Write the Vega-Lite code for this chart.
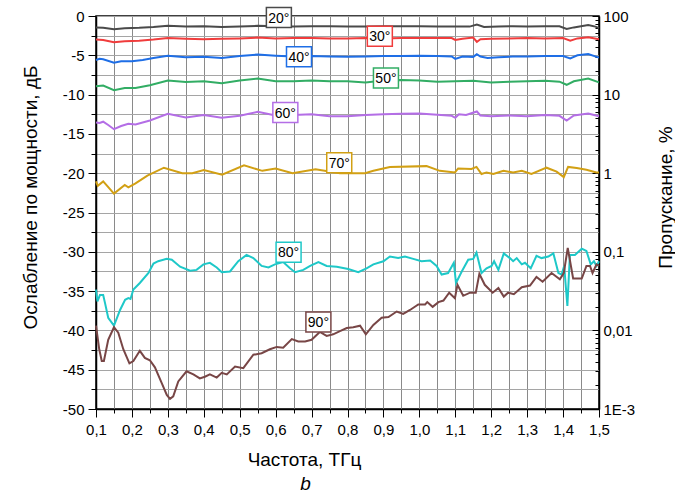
{
  "$schema": "https://vega.github.io/schema/vega-lite/v6.json",
  "width": 503,
  "height": 393,
  "autosize": {"type": "none"},
  "padding": {"left": 96, "top": 16, "right": 76, "bottom": 95},
  "background": "white",
  "title": {"text": "b", "orient": "bottom", "fontStyle": "italic", "fontWeight": "normal", "fontSize": 19, "font": "Liberation Sans", "color": "black", "offset": 6, "dx": -42},
  "config": {
    "view": {"stroke": "black", "strokeWidth": 1.5},
    "font": "Liberation Sans",
    "axis": {"labelFont": "Liberation Sans", "labelFontSize": 15, "labelColor": "black", "titleFont": "Liberation Sans", "titleFontSize": 19, "titleFontWeight": "normal", "titleColor": "black", "domainColor": "black", "domainWidth": 1.5, "tickColor": "black", "tickWidth": 1}
  },
  "datasets": {
    "curves": [
      {"s":"20","f":0.10,"db":-1.45},{"s":"20","f":0.12,"db":-1.5},{"s":"20","f":0.15,"db":-1.68},{"s":"20","f":0.18,"db":-1.55},{"s":"20","f":0.22,"db":-1.5},{"s":"20","f":0.26,"db":-1.4},{"s":"20","f":0.30,"db":-1.25},{"s":"20","f":0.35,"db":-1.35},{"s":"20","f":0.40,"db":-1.3},{"s":"20","f":0.45,"db":-1.4},{"s":"20","f":0.50,"db":-1.35},{"s":"20","f":0.55,"db":-1.25},{"s":"20","f":0.60,"db":-1.3},{"s":"20","f":0.65,"db":-1.35},{"s":"20","f":0.70,"db":-1.3},{"s":"20","f":0.75,"db":-1.3},{"s":"20","f":0.80,"db":-1.35},{"s":"20","f":0.85,"db":-1.35},{"s":"20","f":0.90,"db":-1.3},{"s":"20","f":0.95,"db":-1.3},{"s":"20","f":1.00,"db":-1.3},{"s":"20","f":1.05,"db":-1.35},{"s":"20","f":1.10,"db":-1.35},{"s":"20","f":1.14,"db":-1.35},{"s":"20","f":1.16,"db":-1.1},{"s":"20","f":1.18,"db":-1.4},{"s":"20","f":1.22,"db":-1.35},{"s":"20","f":1.26,"db":-1.3},{"s":"20","f":1.30,"db":-1.35},{"s":"20","f":1.35,"db":-1.3},{"s":"20","f":1.39,"db":-1.3},{"s":"20","f":1.41,"db":-1.65},{"s":"20","f":1.43,"db":-1.45},{"s":"20","f":1.45,"db":-1.3},{"s":"20","f":1.47,"db":-1.15},{"s":"20","f":1.49,"db":-1.35},{"s":"20","f":1.50,"db":-1.55},
      {"s":"30","f":0.10,"db":-3.0},{"s":"30","f":0.12,"db":-3.05},{"s":"30","f":0.15,"db":-3.35},{"s":"30","f":0.18,"db":-3.2},{"s":"30","f":0.22,"db":-3.15},{"s":"30","f":0.26,"db":-3.0},{"s":"30","f":0.30,"db":-2.8},{"s":"30","f":0.35,"db":-2.9},{"s":"30","f":0.40,"db":-2.95},{"s":"30","f":0.45,"db":-2.9},{"s":"30","f":0.50,"db":-2.85},{"s":"30","f":0.55,"db":-2.75},{"s":"30","f":0.60,"db":-2.85},{"s":"30","f":0.65,"db":-2.8},{"s":"30","f":0.70,"db":-2.8},{"s":"30","f":0.75,"db":-2.85},{"s":"30","f":0.80,"db":-2.85},{"s":"30","f":0.85,"db":-2.8},{"s":"30","f":0.90,"db":-2.85},{"s":"30","f":0.95,"db":-2.8},{"s":"30","f":1.00,"db":-2.8},{"s":"30","f":1.05,"db":-2.8},{"s":"30","f":1.09,"db":-2.8},{"s":"30","f":1.10,"db":-3.05},{"s":"30","f":1.12,"db":-2.9},{"s":"30","f":1.15,"db":-2.75},{"s":"30","f":1.16,"db":-3.3},{"s":"30","f":1.17,"db":-2.95},{"s":"30","f":1.20,"db":-2.9},{"s":"30","f":1.25,"db":-2.85},{"s":"30","f":1.30,"db":-2.8},{"s":"30","f":1.35,"db":-2.85},{"s":"30","f":1.40,"db":-2.8},{"s":"30","f":1.42,"db":-3.15},{"s":"30","f":1.44,"db":-2.85},{"s":"30","f":1.47,"db":-2.7},{"s":"30","f":1.50,"db":-2.95},
      {"s":"40","f":0.10,"db":-5.6},{"s":"40","f":0.11,"db":-5.45},{"s":"40","f":0.12,"db":-5.5},{"s":"40","f":0.15,"db":-5.95},{"s":"40","f":0.17,"db":-5.75},{"s":"40","f":0.20,"db":-5.75},{"s":"40","f":0.23,"db":-5.6},{"s":"40","f":0.26,"db":-5.35},{"s":"40","f":0.30,"db":-5.05},{"s":"40","f":0.35,"db":-5.25},{"s":"40","f":0.40,"db":-5.2},{"s":"40","f":0.45,"db":-5.35},{"s":"40","f":0.50,"db":-5.1},{"s":"40","f":0.55,"db":-4.9},{"s":"40","f":0.60,"db":-5.05},{"s":"40","f":0.65,"db":-5.15},{"s":"40","f":0.70,"db":-5.1},{"s":"40","f":0.75,"db":-5.15},{"s":"40","f":0.80,"db":-5.2},{"s":"40","f":0.85,"db":-5.15},{"s":"40","f":0.90,"db":-5.1},{"s":"40","f":0.95,"db":-5.1},{"s":"40","f":1.00,"db":-5.05},{"s":"40","f":1.05,"db":-5.1},{"s":"40","f":1.09,"db":-5.15},{"s":"40","f":1.10,"db":-5.45},{"s":"40","f":1.12,"db":-5.15},{"s":"40","f":1.15,"db":-5.2},{"s":"40","f":1.16,"db":-4.85},{"s":"40","f":1.17,"db":-5.15},{"s":"40","f":1.19,"db":-5.35},{"s":"40","f":1.22,"db":-5.25},{"s":"40","f":1.26,"db":-5.15},{"s":"40","f":1.30,"db":-5.15},{"s":"40","f":1.35,"db":-5.1},{"s":"40","f":1.40,"db":-5.1},{"s":"40","f":1.42,"db":-5.4},{"s":"40","f":1.44,"db":-5.0},{"s":"40","f":1.47,"db":-4.85},{"s":"40","f":1.50,"db":-5.3},
      {"s":"50","f":0.10,"db":-8.95},{"s":"50","f":0.12,"db":-8.85},{"s":"50","f":0.15,"db":-9.45},{"s":"50","f":0.18,"db":-9.15},{"s":"50","f":0.21,"db":-9.15},{"s":"50","f":0.25,"db":-8.8},{"s":"50","f":0.30,"db":-8.2},{"s":"50","f":0.35,"db":-8.4},{"s":"50","f":0.40,"db":-8.3},{"s":"50","f":0.45,"db":-8.55},{"s":"50","f":0.50,"db":-8.2},{"s":"50","f":0.55,"db":-7.95},{"s":"50","f":0.60,"db":-8.3},{"s":"50","f":0.65,"db":-8.3},{"s":"50","f":0.70,"db":-8.2},{"s":"50","f":0.75,"db":-8.3},{"s":"50","f":0.80,"db":-8.3},{"s":"50","f":0.85,"db":-8.45},{"s":"50","f":0.90,"db":-8.2},{"s":"50","f":0.95,"db":-8.15},{"s":"50","f":1.00,"db":-8.2},{"s":"50","f":1.05,"db":-8.35},{"s":"50","f":1.10,"db":-8.3},{"s":"50","f":1.15,"db":-8.25},{"s":"50","f":1.20,"db":-8.45},{"s":"50","f":1.25,"db":-8.35},{"s":"50","f":1.30,"db":-8.3},{"s":"50","f":1.35,"db":-8.25},{"s":"50","f":1.39,"db":-8.35},{"s":"50","f":1.41,"db":-8.75},{"s":"50","f":1.43,"db":-8.3},{"s":"50","f":1.47,"db":-7.95},{"s":"50","f":1.50,"db":-8.45},
      {"s":"60","f":0.10,"db":-13.55},{"s":"60","f":0.11,"db":-13.6},{"s":"60","f":0.12,"db":-13.45},{"s":"60","f":0.135,"db":-13.9},{"s":"60","f":0.15,"db":-14.4},{"s":"60","f":0.17,"db":-14.0},{"s":"60","f":0.19,"db":-13.7},{"s":"60","f":0.21,"db":-13.8},{"s":"60","f":0.25,"db":-13.3},{"s":"60","f":0.30,"db":-12.45},{"s":"60","f":0.35,"db":-12.9},{"s":"60","f":0.40,"db":-12.6},{"s":"60","f":0.45,"db":-12.95},{"s":"60","f":0.50,"db":-12.7},{"s":"60","f":0.55,"db":-12.2},{"s":"60","f":0.60,"db":-12.65},{"s":"60","f":0.65,"db":-12.6},{"s":"60","f":0.70,"db":-12.5},{"s":"60","f":0.75,"db":-12.75},{"s":"60","f":0.80,"db":-12.75},{"s":"60","f":0.85,"db":-12.6},{"s":"60","f":0.90,"db":-12.5},{"s":"60","f":0.95,"db":-12.45},{"s":"60","f":1.00,"db":-12.4},{"s":"60","f":1.05,"db":-12.55},{"s":"60","f":1.09,"db":-12.7},{"s":"60","f":1.10,"db":-12.95},{"s":"60","f":1.11,"db":-12.5},{"s":"60","f":1.13,"db":-12.6},{"s":"60","f":1.16,"db":-12.15},{"s":"60","f":1.17,"db":-12.65},{"s":"60","f":1.20,"db":-12.75},{"s":"60","f":1.25,"db":-12.65},{"s":"60","f":1.30,"db":-12.75},{"s":"60","f":1.35,"db":-12.6},{"s":"60","f":1.39,"db":-12.7},{"s":"60","f":1.41,"db":-13.3},{"s":"60","f":1.43,"db":-12.65},{"s":"60","f":1.47,"db":-12.4},{"s":"60","f":1.50,"db":-12.75},
      {"s":"70","f":0.10,"db":-21.05},{"s":"70","f":0.105,"db":-21.6},{"s":"70","f":0.12,"db":-21.05},{"s":"70","f":0.15,"db":-22.6},{"s":"70","f":0.18,"db":-21.5},{"s":"70","f":0.19,"db":-21.8},{"s":"70","f":0.21,"db":-21.3},{"s":"70","f":0.243,"db":-20.3},{"s":"70","f":0.289,"db":-19.3},{"s":"70","f":0.34,"db":-20.0},{"s":"70","f":0.368,"db":-20.0},{"s":"70","f":0.40,"db":-19.6},{"s":"70","f":0.451,"db":-20.2},{"s":"70","f":0.512,"db":-19.0},{"s":"70","f":0.563,"db":-19.7},{"s":"70","f":0.60,"db":-19.4},{"s":"70","f":0.647,"db":-20.0},{"s":"70","f":0.711,"db":-19.5},{"s":"70","f":0.779,"db":-20.0},{"s":"70","f":0.849,"db":-20.0},{"s":"70","f":0.872,"db":-19.7},{"s":"70","f":0.918,"db":-19.2},{"s":"70","f":1.02,"db":-19.1},{"s":"70","f":1.057,"db":-19.7},{"s":"70","f":1.099,"db":-19.9},{"s":"70","f":1.108,"db":-19.4},{"s":"70","f":1.145,"db":-19.45},{"s":"70","f":1.159,"db":-19.2},{"s":"70","f":1.173,"db":-20.1},{"s":"70","f":1.187,"db":-19.9},{"s":"70","f":1.206,"db":-20.1},{"s":"70","f":1.234,"db":-19.7},{"s":"70","f":1.261,"db":-19.9},{"s":"70","f":1.285,"db":-19.7},{"s":"70","f":1.312,"db":-20.1},{"s":"70","f":1.354,"db":-19.3},{"s":"70","f":1.382,"db":-19.8},{"s":"70","f":1.402,"db":-20.5},{"s":"70","f":1.414,"db":-19.2},{"s":"70","f":1.438,"db":-19.35},{"s":"70","f":1.465,"db":-19.55},{"s":"70","f":1.493,"db":-19.9},{"s":"70","f":1.50,"db":-19.9},
      {"s":"80","f":0.100,"db":-34.8},{"s":"80","f":0.104,"db":-36.3},{"s":"80","f":0.111,"db":-35.5},{"s":"80","f":0.120,"db":-35.5},{"s":"80","f":0.125,"db":-36.5},{"s":"80","f":0.134,"db":-38.4},{"s":"80","f":0.150,"db":-39.4},{"s":"80","f":0.167,"db":-37.4},{"s":"80","f":0.181,"db":-36.1},{"s":"80","f":0.190,"db":-35.9},{"s":"80","f":0.196,"db":-36.0},{"s":"80","f":0.204,"db":-34.8},{"s":"80","f":0.222,"db":-33.97},{"s":"80","f":0.246,"db":-32.7},{"s":"80","f":0.26,"db":-31.5},{"s":"80","f":0.273,"db":-31.2},{"s":"80","f":0.297,"db":-30.9},{"s":"80","f":0.311,"db":-31.0},{"s":"80","f":0.334,"db":-31.9},{"s":"80","f":0.362,"db":-32.4},{"s":"80","f":0.38,"db":-32.3},{"s":"80","f":0.399,"db":-31.6},{"s":"80","f":0.417,"db":-31.4},{"s":"80","f":0.436,"db":-32.0},{"s":"80","f":0.45,"db":-32.6},{"s":"80","f":0.473,"db":-32.5},{"s":"80","f":0.496,"db":-31.2},{"s":"80","f":0.519,"db":-30.4},{"s":"80","f":0.538,"db":-30.8},{"s":"80","f":0.561,"db":-31.8},{"s":"80","f":0.58,"db":-32.0},{"s":"80","f":0.598,"db":-31.6},{"s":"80","f":0.621,"db":-31.3},{"s":"80","f":0.64,"db":-32.1},{"s":"80","f":0.654,"db":-32.6},{"s":"80","f":0.677,"db":-32.3},{"s":"80","f":0.696,"db":-31.8},{"s":"80","f":0.719,"db":-31.3},{"s":"80","f":0.742,"db":-31.8},{"s":"80","f":0.77,"db":-31.9},{"s":"80","f":0.802,"db":-32.2},{"s":"80","f":0.83,"db":-32.6},{"s":"80","f":0.853,"db":-32.1},{"s":"80","f":0.872,"db":-31.6},{"s":"80","f":0.9,"db":-31.2},{"s":"80","f":0.918,"db":-30.6},{"s":"80","f":0.941,"db":-30.8},{"s":"80","f":0.96,"db":-30.6},{"s":"80","f":0.983,"db":-30.9},{"s":"80","f":1.006,"db":-31.2},{"s":"80","f":1.03,"db":-31.1},{"s":"80","f":1.048,"db":-31.8},{"s":"80","f":1.062,"db":-32.9},{"s":"80","f":1.08,"db":-32.7},{"s":"80","f":1.096,"db":-31.4},{"s":"80","f":1.102,"db":-33.97},{"s":"80","f":1.118,"db":-32.5},{"s":"80","f":1.136,"db":-31.0},{"s":"80","f":1.15,"db":-30.9},{"s":"80","f":1.159,"db":-30.1},{"s":"80","f":1.173,"db":-32.7},{"s":"80","f":1.187,"db":-32.1},{"s":"80","f":1.201,"db":-31.8},{"s":"80","f":1.208,"db":-31.2},{"s":"80","f":1.22,"db":-32.3},{"s":"80","f":1.235,"db":-30.2},{"s":"80","f":1.252,"db":-30.8},{"s":"80","f":1.261,"db":-31.2},{"s":"80","f":1.271,"db":-30.8},{"s":"80","f":1.285,"db":-31.6},{"s":"80","f":1.294,"db":-31.4},{"s":"80","f":1.31,"db":-32.1},{"s":"80","f":1.326,"db":-30.5},{"s":"80","f":1.34,"db":-30.8},{"s":"80","f":1.359,"db":-30.6},{"s":"80","f":1.373,"db":-30.2},{"s":"80","f":1.387,"db":-32.7},{"s":"80","f":1.396,"db":-32.9},{"s":"80","f":1.403,"db":-31.8},{"s":"80","f":1.412,"db":-36.9},{"s":"80","f":1.419,"db":-30.4},{"s":"80","f":1.433,"db":-30.4},{"s":"80","f":1.452,"db":-29.6},{"s":"80","f":1.465,"db":-29.9},{"s":"80","f":1.477,"db":-31.6},{"s":"80","f":1.486,"db":-31.2},{"s":"80","f":1.493,"db":-31.8},{"s":"80","f":1.5,"db":-31.2},
      {"s":"90","f":0.1,"db":-39.4},{"s":"90","f":0.109,"db":-42.4},{"s":"90","f":0.116,"db":-43.9},{"s":"90","f":0.122,"db":-43.9},{"s":"90","f":0.134,"db":-41.2},{"s":"90","f":0.15,"db":-39.6},{"s":"90","f":0.162,"db":-40.3},{"s":"90","f":0.176,"db":-42.4},{"s":"90","f":0.193,"db":-44.2},{"s":"90","f":0.204,"db":-43.9},{"s":"90","f":0.222,"db":-42.6},{"s":"90","f":0.236,"db":-43.5},{"s":"90","f":0.25,"db":-43.8},{"s":"90","f":0.264,"db":-44.7},{"s":"90","f":0.283,"db":-46.7},{"s":"90","f":0.297,"db":-48.2},{"s":"90","f":0.306,"db":-48.7},{"s":"90","f":0.315,"db":-48.4},{"s":"90","f":0.329,"db":-46.5},{"s":"90","f":0.352,"db":-45.2},{"s":"90","f":0.371,"db":-45.6},{"s":"90","f":0.389,"db":-46.1},{"s":"90","f":0.403,"db":-45.9},{"s":"90","f":0.417,"db":-45.6},{"s":"90","f":0.436,"db":-46.0},{"s":"90","f":0.45,"db":-45.4},{"s":"90","f":0.464,"db":-45.6},{"s":"90","f":0.487,"db":-44.6},{"s":"90","f":0.51,"db":-44.8},{"s":"90","f":0.538,"db":-43.1},{"s":"90","f":0.561,"db":-42.9},{"s":"90","f":0.584,"db":-42.4},{"s":"90","f":0.603,"db":-42.1},{"s":"90","f":0.621,"db":-42.2},{"s":"90","f":0.645,"db":-41.1},{"s":"90","f":0.663,"db":-41.4},{"s":"90","f":0.682,"db":-41.4},{"s":"90","f":0.7,"db":-41.2},{"s":"90","f":0.723,"db":-40.2},{"s":"90","f":0.742,"db":-40.7},{"s":"90","f":0.76,"db":-40.5},{"s":"90","f":0.779,"db":-40.1},{"s":"90","f":0.798,"db":-39.7},{"s":"90","f":0.816,"db":-39.6},{"s":"90","f":0.835,"db":-39.4},{"s":"90","f":0.851,"db":-40.5},{"s":"90","f":0.872,"db":-39.3},{"s":"90","f":0.895,"db":-38.4},{"s":"90","f":0.914,"db":-38.3},{"s":"90","f":0.937,"db":-37.6},{"s":"90","f":0.955,"db":-37.9},{"s":"90","f":0.974,"db":-37.4},{"s":"90","f":0.997,"db":-36.7},{"s":"90","f":1.016,"db":-36.7},{"s":"90","f":1.022,"db":-36.4},{"s":"90","f":1.037,"db":-37.0},{"s":"90","f":1.053,"db":-36.4},{"s":"90","f":1.067,"db":-36.2},{"s":"90","f":1.083,"db":-35.2},{"s":"90","f":1.099,"db":-35.9},{"s":"90","f":1.106,"db":-34.2},{"s":"90","f":1.122,"db":-35.6},{"s":"90","f":1.141,"db":-35.2},{"s":"90","f":1.157,"db":-35.2},{"s":"90","f":1.167,"db":-32.8},{"s":"90","f":1.182,"db":-34.2},{"s":"90","f":1.204,"db":-35.2},{"s":"90","f":1.22,"db":-34.6},{"s":"90","f":1.235,"db":-35.7},{"s":"90","f":1.247,"db":-35.2},{"s":"90","f":1.263,"db":-35.4},{"s":"90","f":1.285,"db":-34.5},{"s":"90","f":1.308,"db":-34.3},{"s":"90","f":1.326,"db":-33.2},{"s":"90","f":1.343,"db":-33.8},{"s":"90","f":1.368,"db":-32.7},{"s":"90","f":1.391,"db":-33.5},{"s":"90","f":1.402,"db":-32.7},{"s":"90","f":1.413,"db":-29.5},{"s":"90","f":1.428,"db":-33.4},{"s":"90","f":1.452,"db":-33.4},{"s":"90","f":1.465,"db":-31.8},{"s":"90","f":1.475,"db":-31.8},{"s":"90","f":1.482,"db":-32.7},{"s":"90","f":1.493,"db":-31.6},{"s":"90","f":1.5,"db":-31.8}
    ],
    "labels": [
      {"s":"20","f":0.609,"db":-0.2,"t":"20°"},
      {"s":"30","f":0.89,"db":-2.58,"t":"30°"},
      {"s":"40","f":0.665,"db":-5.19,"t":"40°"},
      {"s":"50","f":0.907,"db":-7.9,"t":"50°"},
      {"s":"60","f":0.627,"db":-12.28,"t":"60°"},
      {"s":"70","f":0.777,"db":-18.66,"t":"70°"},
      {"s":"80","f":0.636,"db":-30.07,"t":"80°"},
      {"s":"90","f":0.719,"db":-38.92,"t":"90°"}
    ],
    "pct": [{"p": 0.001}, {"p": 100}]
  },
  "layer": [
    {
      "encoding": {
        "x": {"field": "f", "type": "quantitative", "scale": {"domain": [0.1, 1.5], "nice": false, "zero": false},
          "axis": {"title": "Частота, ТГц", "values": [0.1,0.15,0.2,0.25,0.3,0.35,0.4,0.45,0.5,0.55,0.6,0.65,0.7,0.75,0.8,0.85,0.9,0.95,1.0,1.05,1.1,1.15,1.2,1.25,1.3,1.35,1.4,1.45,1.5],
            "labelExpr": "abs(datum.value*10 - round(datum.value*10)) < 0.001 ? replace(format(datum.value, '.1f'), '.', ',') : ''",
            "tickSize": {"condition": {"test": "abs(datum.value*10 - round(datum.value*10)) < 0.001", "value": 8}, "value": 4},
            "labelPadding": 5, "grid": true, "gridColor": "#8a8a8a", "gridWidth": 1, "gridOpacity": 1, "titlePadding": 13, "titleX": 208, "labelFlush": false, "labelOverlap": false}},
        "y": {"field": "db", "type": "quantitative", "scale": {"domain": [-50, 0], "nice": false, "zero": false},
          "axis": {"title": "Ослабление по мощности, дБ", "values": [-50,-47.5,-45,-42.5,-40,-37.5,-35,-32.5,-30,-27.5,-25,-22.5,-20,-17.5,-15,-12.5,-10,-7.5,-5,-2.5,0],
            "labelExpr": "datum.value % 5 == 0 ? '' + datum.value : ''",
            "tickSize": {"condition": {"test": "datum.value % 5 == 0", "value": 8}, "value": 5},
            "labelPadding": 4, "grid": true, "gridColor": "#a5a5a5", "gridWidth": 1, "gridOpacity": 1, "titlePadding": 22, "titleY": 181, "labelOverlap": false, "labelFlush": false}}
      },
      "layer": [
        {
          "data": {"name": "curves"},
          "mark": {"type": "line", "strokeWidth": 2, "interpolate": "linear"},
          "encoding": {
            "color": {"field": "s", "type": "nominal", "legend": null,
              "scale": {"domain": ["20","30","40","50","60","70","80","90"], "range": ["#4a4a4a","#f03c3c","#1e6ee6","#32ad64","#b46ee6","#d2a014","#1ec8c8","#784646"]}}
          }
        },
        {
          "data": {"name": "labels"},
          "mark": {"type": "point", "shape": "M-1,-0.8H1V0.8H-1Z", "size": 625, "fill": "white", "filled": false, "fillOpacity": 1, "strokeWidth": 1.5, "opacity": 1},
          "encoding": {
            "stroke": {"field": "s", "type": "nominal", "legend": null,
              "scale": {"domain": ["20","30","40","50","60","70","80","90"], "range": ["#4a4a4a","#f03c3c","#1e6ee6","#32ad64","#b46ee6","#d2a014","#1ec8c8","#784646"]}}
          }
        },
        {
          "data": {"name": "labels"},
          "mark": {"type": "text", "fontSize": 14, "font": "Liberation Sans", "color": "black", "baseline": "middle", "align": "center", "dy": 1},
          "encoding": {"text": {"field": "t", "type": "nominal"}}
        }
      ]
    },
    {
      "data": {"name": "pct"},
      "mark": {"type": "point", "opacity": 0},
      "encoding": {
        "y": {"field": "p", "type": "quantitative", "scale": {"type": "log", "domain": [0.001, 100], "nice": false},
          "axis": {"orient": "right", "title": "Пропускание, %", "titleAngle": -90, "titleBaseline": "top", "grid": false,
            "values": [0.001,0.002,0.003,0.004,0.005,0.006,0.007,0.008,0.009,0.01,0.02,0.03,0.04,0.05,0.06,0.07,0.08,0.09,0.1,0.2,0.3,0.4,0.5,0.6,0.7,0.8,0.9,1,2,3,4,5,6,7,8,9,10,20,30,40,50,60,70,80,90,100],
            "labelExpr": "datum.value == 0.001 ? '1E-3' : (indexof(['0.01','0.1','1','10','100'], '' + datum.value) >= 0 ? replace('' + datum.value, '.', ',') : '')",
            "tickSize": {"condition": {"test": "indexof([0.001,0.01,0.1,1,10,100], datum.value) >= 0", "value": -7}, "value": -4},
            "labelPadding": 11, "titlePadding": 22, "titleY": 181, "labelOverlap": false, "labelFlush": false}}
      }
    }
  ],
  "resolve": {"scale": {"y": "independent"}, "axis": {"y": "independent"}}
}
